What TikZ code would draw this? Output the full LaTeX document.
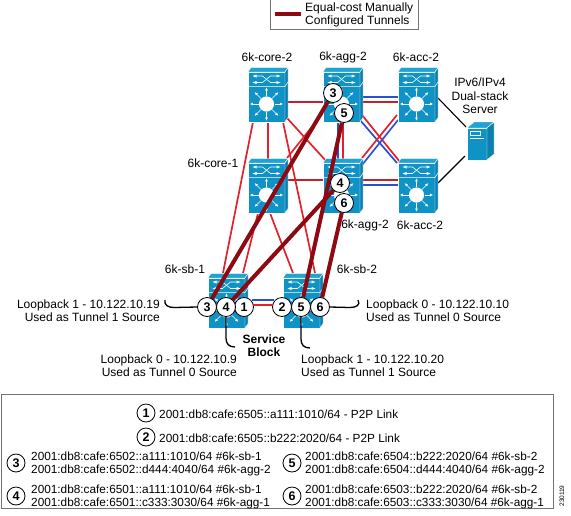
\documentclass[tikz,border=0pt]{standalone}
\usepackage{fontspec}
\setmainfont{Liberation Sans}
\newcommand\fsz{\fontsize{12}{13.3}\selectfont}
\newcommand\asz{\fontsize{11.8}{13.6}\selectfont}
\pgfdeclarelayer{links}\pgfdeclarelayer{switches}\pgfdeclarelayer{tun}
\pgfsetlayers{links,switches,tun,main}
\definecolor{swF}{HTML}{0F93C6}
\definecolor{swT}{HTML}{1FA3D2}
\definecolor{swS}{HTML}{0C7FAE}
\definecolor{lnred}{HTML}{E4202C}
\definecolor{lndark}{HTML}{C2202C}
\definecolor{lnblue}{HTML}{2A50D0}
\definecolor{tunc}{HTML}{8E0A12}
\tikzset{
 swface/.style={fill=swF,draw=white,line width=.3pt,minimum width=37pt,minimum height=50pt,inner sep=0pt,outer sep=0pt,rectangle},
 srvface/.style={fill=swF,draw=white,line width=.4pt,minimum width=20pt,minimum height=32pt,inner sep=0pt,outer sep=0pt,rectangle},
 swline/.style={white,line width=.6pt},
 rl/.style={lnred,line width=1.7pt},
 dl/.style={lndark,line width=1.7pt},
 bl/.style={lnblue,line width=1.7pt},
 tunnel/.style={tunc,line width=4pt},
 hook/.style={black,line width=1.3pt},
 num/.style={circle,draw=black,fill=white,line width=.8pt,minimum size=19pt,inner sep=0pt,font=\fontsize{12.5}{13}\selectfont\bfseries},
 lnum/.style={circle,draw=black,fill=white,line width=.8pt,minimum size=18pt,inner sep=0pt,font=\fontsize{12.5}{13}\selectfont\bfseries},
 lab/.style={inner sep=0pt,font=\fsz,text=black,align=center},
 labr/.style={inner sep=0pt,font=\fsz,text=black,align=right,anchor=east},
 labl/.style={inner sep=0pt,font=\fsz,text=black,align=left,anchor=west},
 leg/.style={inner sep=0pt,anchor=west,font=\asz,text=black,align=left},
 bx/.style={draw=black!55,line width=.7pt,fill=white,rectangle,inner sep=0pt},
}
\newcommand\swt[3]{%
 \begin{pgfonlayer}{switches}
 \node[swface] (#1) at (#2,#3) {};
 \begin{scope}[shift={(#2,#3)}]
  \fill[swT,draw=white,line width=.3pt] (-18.5,-25)--(-15.5,-29.5)--(21.5,-29.5)--(18.5,-25)--cycle;
  \fill[swS,draw=white,line width=.3pt] (18.5,-25)--(21.5,-29.5)--(21.5,20.5)--(18.5,25)--cycle;
  \draw[white,line width=.5pt] (-18.5,-10.5)--(18.5,-10.5)--(21.5,-15);
  \draw[swline] (-11,-21)--(-4,-21)--(4,-14.5)--(11,-14.5);
  \draw[swline] (-11,-14.5)--(-4,-14.5)--(4,-21)--(11,-21);
  \fill[white] (-14,-21) -- (-10,-22.5)--(-10,-19.5)--cycle;
  \fill[white] (14,-14.5) -- (10,-16)--(10,-13)--cycle;
  \fill[white] (-14,-14.5) -- (-10,-16)--(-10,-13)--cycle;
  \fill[white] (14,-21) -- (10,-22.5)--(10,-19.5)--cycle;
  \fill[white] (0,7) circle (7.6);
  \foreach \a in {0,45,...,315}{
   \draw[white,line width=.6pt] (0,7) ++(\a:8) -- ++(\a:6.5);
   \fill[white] (0,7) ++(\a:16.5) -- ++(\a+155:3.2) -- ++(\a+270:2.7) -- cycle;
  }
 \end{scope}
 \end{pgfonlayer}}
\newcommand\off[3]{([shift={(#2,#3)}]#1.center)}
\begin{document}
\begin{tikzpicture}[x=1pt,y=-1pt]
\useasboundingbox (0,0) rectangle (571,515);
% legend boxes
\node[bx,minimum width=148pt,minimum height=31pt] (legbox) at (344,14) {};
\coordinate (la) at (275,14); \coordinate (lb) at (301,14);
\draw[tunnel] (la)--(lb);
\node[labl] (legtext) at (305,15) {Equal-cost Manually\\Configured Tunnels};
\node[bx,minimum width=552pt,minimum height=114pt] (addrbox) at (277.5,451) {};
% switches
\swt{core2}{266.5}{97}
\swt{agg2}{341.5}{97}
\swt{acc2}{416.5}{97}
\swt{core1}{266.5}{188}
\swt{agg1}{341.5}{188}
\swt{acc1}{416.5}{188}
\swt{sb1}{226.5}{303}
\swt{sb2}{301.5}{303}
% server
\begin{pgfonlayer}{switches}
 \node[srvface] (server) at (477,144) {};
 \begin{scope}[shift={(477,144)}]
  \fill[swT,draw=white,line width=.4pt] (-10,-16)--(-3,-22)--(17,-22)--(10,-16)--cycle;
  \fill[swS,draw=white,line width=.4pt] (10,-16)--(17,-22)--(17,10)--(10,16)--cycle;
  \draw[white,line width=.5pt] (-7,-13) rectangle (3,-9);
  \draw[white,line width=.5pt] (-7,-6)--(7,-6);
 \end{scope}
\end{pgfonlayer}
% numbered circles
\node[num] (c1) at (244,307) {1};
\node[num] (c2) at (282,307) {2};
\node[num] (c3) at (207,307) {3};
\node[num] (c4) at (226,307) {4};
\node[num] (c5) at (301,307) {5};
\node[num] (c6) at (320,307) {6};
\node[num] (d3) at (333,93) {3};
\node[num] (d5) at (344,113) {5};
\node[num] (d4) at (340,183) {4};
\node[num] (d6) at (344,203) {6};
% links
\begin{pgfonlayer}{links}
 \draw[rl] \off{core2}{1.5}{25}--\off{core1}{1.5}{-25};
 \draw[dl] \off{core2}{18.5}{5}--\off{agg2}{-18.5}{5};
 \draw[dl] \off{core1}{18.5}{-8}--\off{agg1}{-18.5}{-8};
 \draw[rl] \off{core2}{20.5}{21}--\off{agg1}{-14.5}{-26};
 \draw[rl] \off{core1}{20.5}{-30}--\off{agg2}{-18.5}{16};
 \draw[rl] \off{core2}{-13.5}{25}--\off{sb1}{-3.5}{-30};
 \draw[rl] \off{core2}{16.5}{25}--\off{sb2}{13.5}{-30};
 \draw[rl] \off{core1}{-8.5}{25}--\off{sb1}{16.5}{-30};
 \draw[rl] \off{core1}{3.5}{25}--\off{sb2}{-8.5}{-30};
 \draw[bl] \off{agg2}{-3.5}{25}--\off{agg1}{-3.5}{-25};
 \draw[rl] \off{agg2}{1.5}{25}--\off{agg1}{1.5}{-25};
 \draw[bl] \off{agg2}{18.5}{0}--\off{acc2}{-18.5}{0};
 \draw[dl] \off{agg2}{18.5}{5}--\off{acc2}{-18.5}{5};
 \draw[dl] \off{agg1}{18.5}{-8}--\off{acc1}{-18.5}{-8};
 \draw[bl] \off{agg1}{18.5}{-3}--\off{acc1}{-18.5}{-3};
 \draw[bl] \off{agg2}{18.5}{23}--\off{acc1}{-19.5}{-25};
 \draw[rl] \off{agg2}{20.5}{18}--\off{acc1}{-16.5}{-26};
 \draw[bl] \off{acc2}{-18.5}{23}--\off{agg1}{20.5}{-23};
 \draw[rl] \off{acc2}{-19.5}{18}--\off{agg1}{20.5}{-30};
 \draw[black,line width=1.1pt] \off{acc2}{21.5}{1}--\off{server}{-11}{-17};
 \draw[black,line width=1.1pt] \off{acc1}{21.5}{-5}--\off{server}{-12}{12};
\end{pgfonlayer}
\draw[bl] \off{c1}{8}{-7}--\off{c2}{-8}{-7};
\draw[rl] \off{c1}{9}{-2}--\off{c2}{-9}{-2};
% tunnels
\begin{pgfonlayer}{tun}
 \draw[tunnel] (c3)--(d3);
 \draw[tunnel] (c4)--(d4);
 \draw[tunnel] (c5)--(d5);
 \draw[tunnel] (c6)--(d6);
\end{pgfonlayer}
% hooks
\coordinate (h3) at (165,300);
\coordinate (h6) at (358,300);
\coordinate (h4) at (235,347);
\coordinate (h5) at (310,348);
\draw[hook] (c3.west)--(174,307.5) .. controls (168,307.5) and (164,305) .. (h3);
\draw[hook] (c6.east)--(350,307.5) .. controls (356,307.5) and (361,305) .. (h6);
\draw[hook] (c4.south)--(226,338) .. controls (226,344) and (229,347) .. (h4);
\draw[hook] (c5.south)--(301,339) .. controls (301,345) and (304,348) .. (h5);
% labels
\node[lab] (tcore2) at (267,57) {6k-core-2};
\node[lab] (tagg2) at (343,57) {6k-agg-2};
\node[lab] (tacc2) at (416,57) {6k-acc-2};
\node[lab] (tsrv) at (480,96) {IPv6/IPv4\\Dual-stack\\Server};
\node[lab] (tcore1) at (213,163) {6k-core-1};
\node[lab] (tagg1) at (365,225) {6k-agg-2};
\node[lab] (tacc1) at (420,225) {6k-acc-2};
\node[lab] (tsb1) at (185,269) {6k-sb-1};
\node[lab] (tsb2) at (357,269) {6k-sb-2};
\node[lab,font=\fsz\bfseries] (tblock) at (264,345.5) {Service\\Block};
\node[labr] (tl1) at (160,310.5) {Loopback 1 - 10.122.10.19\\Used as Tunnel 1 Source};
\node[labl] (tl2) at (366,310.5) {Loopback 0 - 10.122.10.10\\Used as Tunnel 0 Source};
\node[labr] (tl3) at (237,366) {Loopback 0 - 10.122.10.9\\Used as Tunnel 0 Source};
\node[labl] (tl4) at (301,366) {Loopback 1 - 10.122.10.20\\Used as Tunnel 1 Source};
% address legend
\node[lnum] (e1) at (146,413) {1};
\node[leg] (a1) at (159,414) {2001:db8:cafe:6505::a111:1010/64 - P2P Link};
\node[lnum] (e2) at (146,437) {2};
\node[leg] (a2) at (159,438) {2001:db8:cafe:6505::b222:2020/64 - P2P Link};
\node[lnum] (e3) at (16,463) {3};
\node[leg] (a3) at (31,464) {2001:db8:cafe:6502::a111:1010/64 \#6k-sb-1\\2001:db8:cafe:6502::d444:4040/64 \#6k-agg-2};
\node[lnum] (e5) at (292,463) {5};
\node[leg] (a5) at (305,464) {2001:db8:cafe:6504::b222:2020/64 \#6k-sb-2\\2001:db8:cafe:6504::d444:4040/64 \#6k-agg-2};
\node[lnum] (e4) at (16,496) {4};
\node[leg] (a4) at (31,497) {2001:db8:cafe:6501::a111:1010/64 \#6k-sb-1\\2001:db8:cafe:6501::c333:3030/64 \#6k-agg-1};
\node[lnum] (e6) at (292,496) {6};
\node[leg] (a6) at (305,497) {2001:db8:cafe:6503::b222:2020/64 \#6k-sb-2\\2001:db8:cafe:6503::c333:3030/64 \#6k-agg-1};
\node[inner sep=0pt,rotate=90,font=\fontsize{6.5}{7}\selectfont] (fig) at (562,496) {230119};
\end{tikzpicture}
\end{document}
